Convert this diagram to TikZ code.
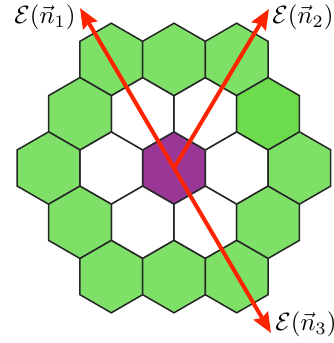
\documentclass[tikz,border=0pt]{standalone}
\usetikzlibrary{arrows.meta}
\definecolor{hexgreen}{RGB}{126,224,103}
\definecolor{hexdkgreen}{RGB}{108,219,78}
\definecolor{hexpurple}{RGB}{154,55,150}
\definecolor{arrred}{RGB}{255,36,0}
\tikzset{
  hexcell/.style={draw=black!85,line width=0.6pt,line join=miter},
  vecarrow/.style={draw=arrred,line width=1.6pt,-{Stealth[length=8pt,width=6.5pt,inset=1pt]}},
  lbl/.style={inner sep=0pt,font=\normalsize}
}
\newcommand{\hexat}[3]{%
  \path[hexcell,fill=#3] (#1,#2) ++(90:36.2) -- ++(210:36.2) -- ++(270:36.2) -- ++(330:36.2) -- ++(30:36.2) -- ++(90:36.2) -- cycle;}
\begin{document}
\begin{tikzpicture}[x=0.4pt,y=-0.4pt]
\useasboundingbox (0,0) rectangle (334,343);
\def\w{62.7}
\def\hR{54.3}
% center
\hexat{174}{168}{hexpurple}
% ring 1
\foreach \dx/\dy in {1/0,-1/0,0.5/1,-0.5/1,0.5/-1,-0.5/-1}{
  \hexat{174+\dx*\w}{168+\dy*\hR}{white}
}
% ring 2
\foreach \dx/\dy in {-1/-2,0/-2,1/-2,-1.5/-1,2/0,-2/0,1.5/1,-1.5/1,-1/2,0/2,1/2}{
  \hexat{174+\dx*\w}{168+\dy*\hR}{hexgreen}
}
\hexat{174+1.5*\w}{168-\hR}{hexdkgreen}
% arrows
\coordinate (c) at (174,168);
\coordinate (t1) at (80,8);
\coordinate (t2) at (269,9);
\coordinate (t3) at (271,333);
\draw[vecarrow] (c) -- (t1);
\draw[vecarrow] (c) -- (t2);
\draw[vecarrow] (c) -- (t3);
\node[lbl,anchor=east] (l1) at (76,17) {$\mathcal{E}(\vec{n}_1)$};
\node[lbl,anchor=west] (l2) at (272,17) {$\mathcal{E}(\vec{n}_2)$};
\node[lbl,anchor=west] (l3) at (275,324) {$\mathcal{E}(\vec{n}_3)$};
\end{tikzpicture}
\end{document}
